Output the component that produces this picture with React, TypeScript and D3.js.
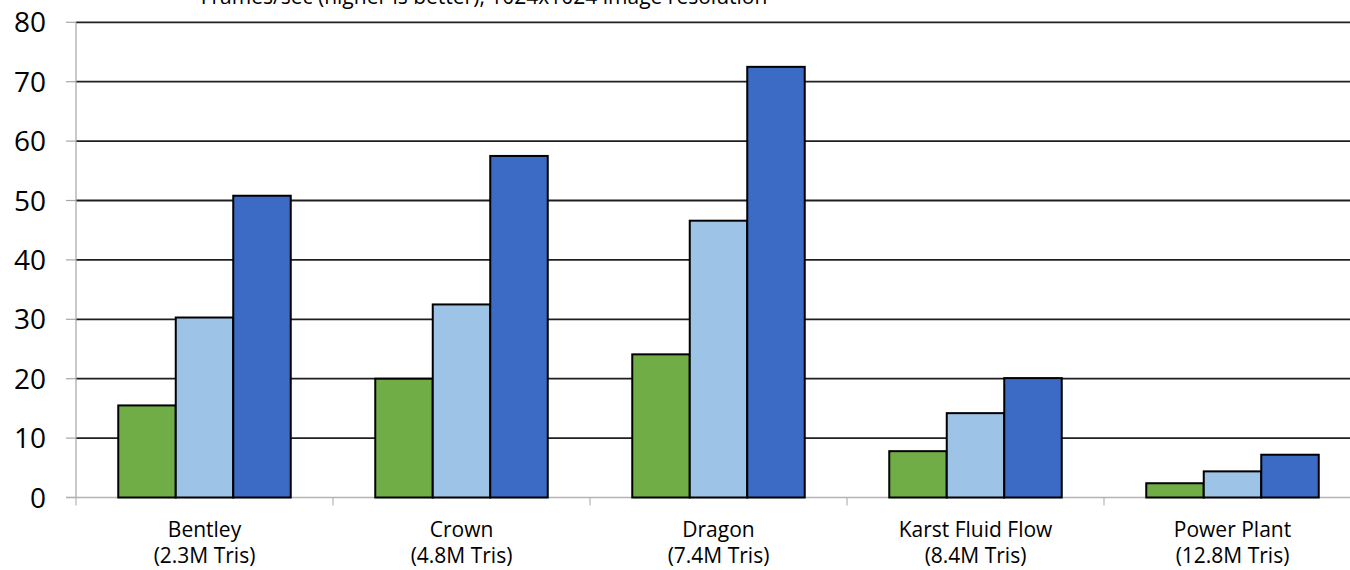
import React from "react";
import * as d3 from "d3";

const categories = ["Bentley", "Crown", "Dragon", "Karst Fluid Flow", "Power Plant"];
const triangleCounts = ["(2.3M Tris)", "(4.8M Tris)", "(7.4M Tris)", "(8.4M Tris)", "(12.8M Tris)"];
const seriesNames = ["s1", "s2", "s3"];
const series1 = [15.5, 20.0, 24.1, 7.8, 2.4];
const series2 = [30.3, 32.5, 46.6, 14.2, 4.4];
const series3 = [50.8, 57.5, 72.5, 20.1, 7.2];
const seriesValues = [series1, series2, series3];
const seriesColors = ["#70AD47", "#9DC3E6", "#3B6BC4"];
const yTicks = [0, 10, 20, 30, 40, 50, 60, 70, 80];
const title = "Frames/sec (higher is better), 1024x1024 image resolution";

const W = 1350;
const H = 570;
const FONT = "'Open Sans', sans-serif";

export default function App() {
  const x0 = d3.scaleBand<string>().domain(categories).range([76, 1361]).paddingInner(0).paddingOuter(0);
  const x1 = d3
    .scaleBand<string>()
    .domain(seriesNames)
    .range([0, x0.bandwidth()])
    .paddingInner(0)
    .paddingOuter(0.735);
  const y = d3.scaleLinear().domain([0, 80]).range([497.5, 22.3]);

  const boundaries = categories.map((c) => x0(c) as number).concat([x0.range()[1]]);

  return (
    <div style={{ position: "absolute", left: 0, top: 0 }}>
      <svg width={W} height={H} style={{ display: "block", background: "#fff" }}>
        <rect x={0} y={0} width={W} height={H} fill="#fff" />
        {/* gridlines */}
        {yTicks.slice(1).map((t) => (
          <line key={"g" + t} x1={76} x2={W} y1={y(t)} y2={y(t)} stroke="#1f1f1f" strokeWidth={1.8} />
        ))}
        {/* y tick stubs */}
        {yTicks.map((t) => (
          <line key={"yt" + t} x1={66} x2={76} y1={y(t)} y2={y(t)} stroke="#a6a6a6" strokeWidth={1.2} />
        ))}
        {/* y axis */}
        <line x1={76} x2={76} y1={y(80)} y2={y(0)} stroke="#a6a6a6" strokeWidth={1.2} />
        {/* x axis */}
        <line x1={66} x2={W} y1={y(0)} y2={y(0)} stroke="#b4b4b4" strokeWidth={1.6} />
        {boundaries.map((b, i) => (
          <line key={"xt" + i} x1={b} x2={b} y1={y(0)} y2={y(0) + 8} stroke="#b4b4b4" strokeWidth={1.2} />
        ))}
        {/* bars */}
        {categories.map((c, ci) => (
          <g key={c} transform={`translate(${x0(c)},0)`}>
            {seriesNames.map((s, si) => {
              const v = seriesValues[si][ci];
              return (
                <rect
                  key={s}
                  x={x1(s)}
                  y={y(v)}
                  width={x1.bandwidth()}
                  height={y(0) - y(v)}
                  fill={seriesColors[si]}
                  stroke="#000"
                  strokeWidth={2}
                />
              );
            })}
          </g>
        ))}
        {/* y labels */}
        {yTicks.map((t) => (
          <text
            key={"yl" + t}
            x={46}
            y={y(t)}
            dy="0.36em"
            textAnchor="end"
            fontFamily={FONT}
            fontSize={28}
            fill="#000"
          >
            {t}
          </text>
        ))}
        {/* category labels */}
        {categories.map((c, ci) => {
          const cx = (x0(c) as number) + x0.bandwidth() / 2;
          return (
            <g key={"cl" + c}>
              <text x={cx} y={536.5} textAnchor="middle" fontFamily={FONT} fontSize={21} fill="#000">
                {c}
              </text>
              <text x={cx} y={563} textAnchor="middle" fontFamily={FONT} fontSize={21} fill="#000">
                {triangleCounts[ci]}
              </text>
            </g>
          );
        })}
        {/* title, partially above the top edge */}
        <text x={484} y={3.5} textAnchor="middle" fontFamily={FONT} fontSize={21} fill="#000">
          {title}
        </text>
      </svg>
    </div>
  );
}
